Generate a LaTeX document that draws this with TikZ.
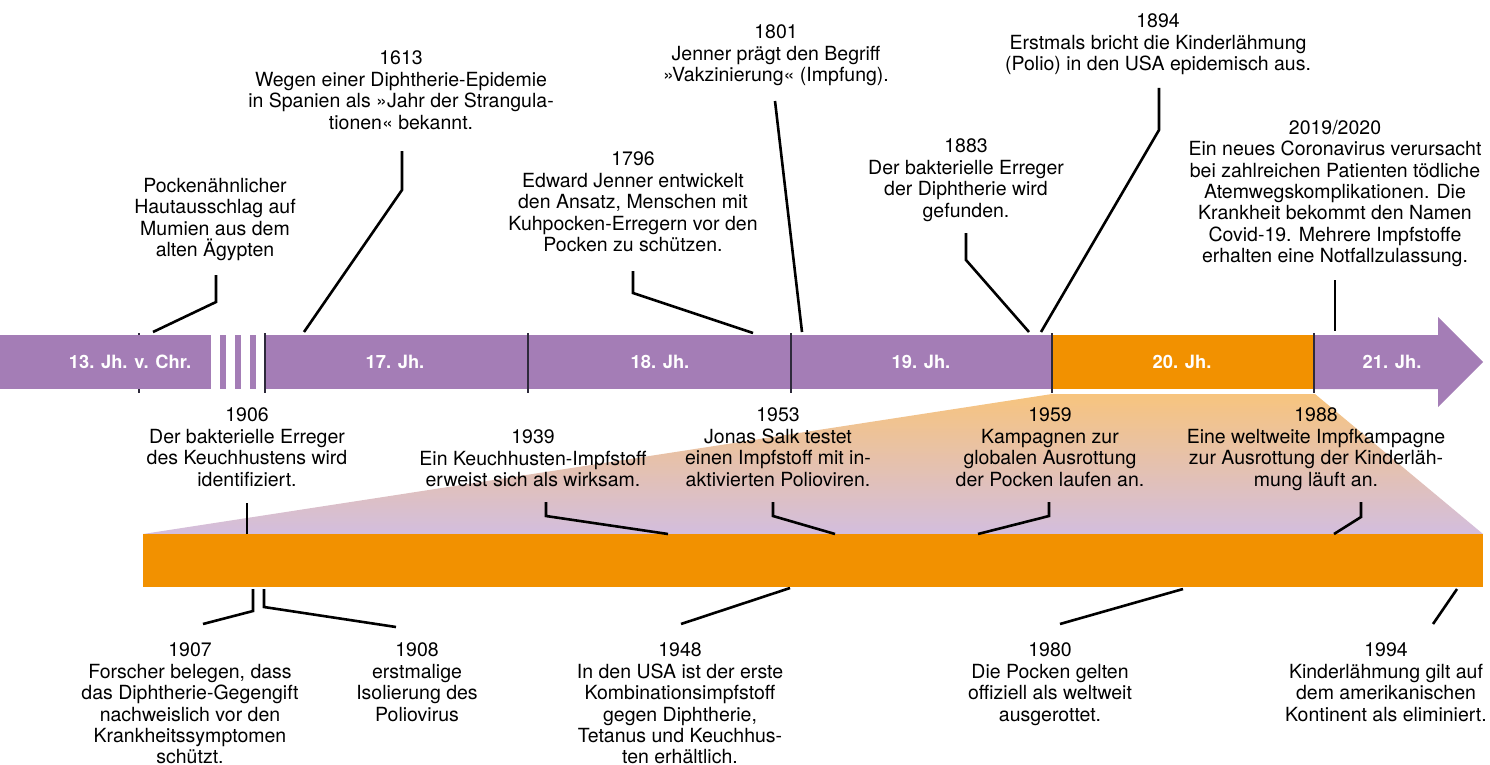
\documentclass[tikz,border=0pt]{standalone}
\usepackage{fontspec}
\setmainfont{TeX Gyre Heros}
\definecolor{zlLila}{HTML}{A47DB6}
\definecolor{zlOrange}{HTML}{F29100}
\definecolor{zlVerlaufO}{HTML}{F7C47E}
\definecolor{zlVerlaufU}{HTML}{D3BEDE}
\definecolor{zlStrich}{HTML}{2E2A3B}
\newcommand{\zlfont}{\fontsize{19.5pt}{21.4pt}\selectfont}
\newcommand{\zlbarfont}{\fontsize{18.3pt}{18.3pt}\selectfont\bfseries}

\begin{document}
\begin{tikzpicture}[x=1pt,y=-1pt,line join=miter,
  every node/.style={inner sep=0pt,outer sep=0pt},
  ereignis/.style={anchor=north,align=center,font=\zlfont},
  jhlabel/.style={text=white,font=\zlbarfont},
  verbinder/.style={line width=2.6pt},
  zeitstrich/.style={draw=zlStrich,line width=2.2pt}]
  % ---- 画布：源图 1490x765px，1px = 1pt，y 向下 ----
  \useasboundingbox (0,0) rectangle (1490,765);
  % ---- 20. Jh. 放大区：梯形渐变（上橙下紫）+ 下方橙条 ----
  \shade[top color=zlVerlaufO,bottom color=zlVerlaufU]
    (1052,394) -- (1315,394) -- (1483,534) -- (143,534) -- cycle;
  \fill[zlOrange] (143,534) rectangle (1483,587);
  % ---- 主时间轴：左段、三条断开条纹、中段、橙色 20. Jh.、箭头 ----
  \draw[zeitstrich] (139,333) -- (139,393);  % 被色条遮住，只露两端
  \fill[zlLila] (0,335) rectangle (211,389);
  \foreach \x in {220,235,250} \fill[zlLila] (\x,335) rectangle ++(6,54);
  \fill[zlLila] (264,335) rectangle (1053,389);
  \fill[zlOrange] (1053,335) rectangle (1314,389);
  \fill[zlLila] (1314,335) -- (1438,335) -- (1438,317) -- (1483,362)
    -- (1438,407) -- (1438,389) -- (1314,389) -- cycle;
  \foreach \x in {265,528,791,1052,1314} \draw[zeitstrich] (\x,333) -- (\x,393);
  % ---- 世纪标签 ----
  \node[jhlabel] (jh13) at (130,362) {13. Jh. v. Chr.};
  \node[jhlabel] (jh17) at (395,362) {17. Jh.};
  \node[jhlabel] (jh18) at (660,362) {18. Jh.};
  \node[jhlabel] (jh19) at (921,362) {19. Jh.};
  \node[jhlabel] (jh20) at (1182,362) {20. Jh.};
  \node[jhlabel] (jh21) at (1392,362) {21. Jh.};
  % ---- 连线：起点 s、折点 k、终点 e（源图像素坐标）----
  \foreach \n/\sx/\sy/\kx/\ky/\ex/\ey in {
      pock/216/275/216/302/153/332, v1613/402/151/402/190/304/332,
      v1796/633/271/633/293/753/333, v1883/966/233/966/260/1029/332,
      v1894/1159/88/1159/130/1041/332, v1939/546/502/546/516/668/534,
      v1953/773/502/773/516/835/534, v1959/1049/502/1049/516/978/534,
      v1988/1361/502/1361/517/1334/534, v1907/253/589/253/611/203/624,
      v1908/264/589/264/607/396/627} {
    \coordinate (\n-s) at (\sx,\sy);
    \coordinate (\n-k) at (\kx,\ky);
    \coordinate (\n-e) at (\ex,\ey);
    \draw[verbinder] (\n-s) -- (\n-k) -- (\n-e);
  }
  % 直线型连线
  \foreach \n/\sx/\sy/\ex/\ey in {
      v1801/775/101/802/332, v2019/1335/280/1335/331, v1906/247/503/247/534,
      v1948/790/588/681/624, v1980/1183/589/1060/624, v1994/1457/589/1433/624} {
    \coordinate (\n-s) at (\sx,\sy);
    \coordinate (\n-e) at (\ex,\ey);
    \draw[verbinder] (\n-s) -- (\n-e);
  }
  % ---- 事件文字：north 锚点＝首行字顶 ----
  \node[ereignis] (tpock) at (215,178) {Pockenähnlicher\\Hautausschlag auf\\Mumien aus dem\\alten Ägypten};
  \node[ereignis] (t1613) at (401,51) {1613\\Wegen einer Diphtherie-Epidemie\\in Spanien als »Jahr der Strangula-\\tionen« bekannt.};
  \node[ereignis] (t1796) at (633,152) {1796\\Edward Jenner entwickelt\\den Ansatz, Menschen mit\\Kuhpocken-Erregern vor den\\Pocken zu schützen.};
  \node[ereignis] (t1801) at (776,25) {1801\\Jenner prägt den Begriff\\»Vakzinierung« (Impfung).};
  \node[ereignis] (t1883) at (966,139) {1883\\Der bakterielle Erreger\\der Diphtherie wird\\gefunden.};
  \node[ereignis] (t1894) at (1158,14) {1894\\Erstmals bricht die Kinderlähmung\\(Polio) in den USA epidemisch aus.};
  \node[ereignis] (t2019) at (1335,120) {2019/2020\\Ein neues Coronavirus verursacht\\bei zahlreichen Patienten tödliche\\Atemwegskomplikationen. Die\\Krankheit bekommt den Namen\\Covid-19. Mehrere Impfstoffe\\erhalten eine Notfallzulassung.};
  \node[ereignis] (t1906) at (247,408) {1906\\Der bakterielle Erreger\\des Keuchhustens wird\\identifiziert.};
  \node[ereignis] (t1939) at (533,430) {1939\\Ein Keuchhusten-Impfstoff\\erweist sich als wirksam.};
  \node[ereignis] (t1953) at (778,408) {1953\\Jonas Salk testet\\einen Impfstoff mit in-\\aktivierten Polioviren.};
  \node[ereignis] (t1959) at (1050,408) {1959\\Kampagnen zur\\globalen Ausrottung\\der Pocken laufen an.};
  \node[ereignis] (t1988) at (1316,408) {1988\\Eine weltweite Impfkampagne\\zur Ausrottung der Kinderläh-\\mung läuft an.};
  \node[ereignis] (t1907) at (190,643) {1907\\Forscher belegen, dass\\das Diphtherie-Gegengift\\nachweislich vor den\\Krankheitssymptomen\\schützt.};
  \node[ereignis] (t1908) at (417,643) {1908\\erstmalige\\Isolierung des\\Poliovirus};
  \node[ereignis] (t1948) at (680,643) {1948\\In den USA ist der erste\\Kombinationsimpfstoff\\gegen Diphtherie,\\Tetanus und Keuchhus-\\ten erhältlich.};
  \node[ereignis] (t1980) at (1050,643) {1980\\Die Pocken gelten\\offiziell als weltweit\\ausgerottet.};
  \node[ereignis] (t1994) at (1386,643) {1994\\Kinderlähmung gilt auf\\dem amerikanischen\\Kontinent als eliminiert.};
\end{tikzpicture}
\end{document}
